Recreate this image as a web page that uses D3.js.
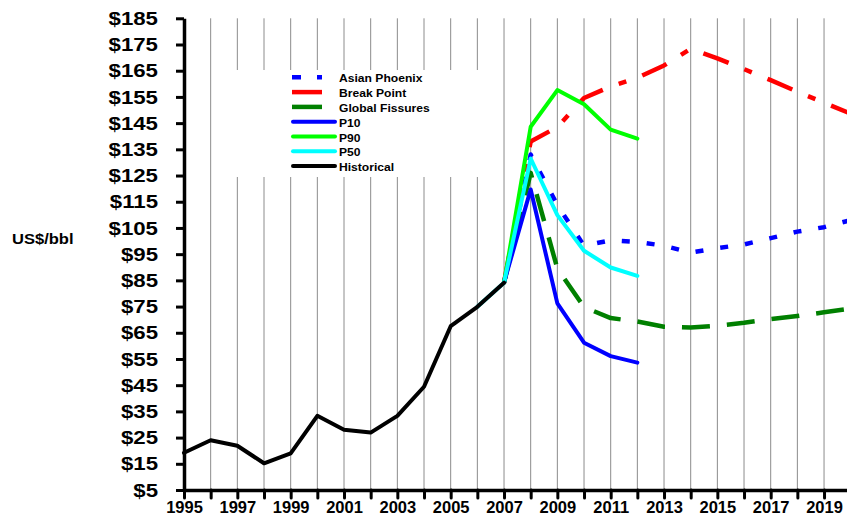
<!DOCTYPE html>
<html>
<head>
<meta charset="utf-8">
<script src="https://cdn.jsdelivr.net/npm/d3@7"></script>
<style>
  body { margin: 0; background: #fff; }
  svg { display: block; }
  text { font-family: "Liberation Sans", Arial, sans-serif; font-weight: bold; fill: #000; }
</style>
</head>
<body>
<div id="chart"></div>
<script>
// data
let histYears = [1995, 1996, 1997, 1998, 1999, 2000, 2001, 2002, 2003, 2004, 2005, 2006, 2007]
let historical = [19.2, 24.0, 21.9, 15.2, 19.0, 33.3, 28.0, 26.9, 33.3, 44.4, 67.5, 74.9, 84.1]

let pYears = [2007, 2008, 2009, 2010, 2011, 2012]
let p10 = [84.1, 119.7, 76.2, 61.2, 56.1, 53.6]
let p90 = [84.1, 143.6, 157.6, 152.2, 142.5, 139.1]
let p50Years = [2006, 2007, 2008, 2009, 2010, 2011, 2012]
let p50 = [74.9, 84.1, 131.5, 109.9, 96.3, 89.9, 86.7]

let scenYears = [2007, 2008, 2009, 2010, 2011, 2012, 2013, 2014, 2015, 2016, 2017, 2018, 2019, 2020]
let asianPhoenix = [84.1, 133.0, 113.7, 98.2, 100.3, 99.7, 98.2, 95.6, 97.3, 98.7, 101.1, 103.6, 105.3, 108.0]
let breakPoint = [84.1, 138.0, 143.5, 154.6, 159.0, 162.3, 167.0, 173.4, 169.7, 165.6, 161.4, 157.0, 152.8, 148.6]
let globalFissures = [84.1, 126.0, 89.5, 74.8, 70.6, 69.3, 67.3, 67.0, 67.7, 68.8, 70.2, 71.4, 72.8, 74.2]

let yTicks = [5, 15, 25, 35, 45, 55, 65, 75, 85, 95, 105, 115, 125, 135, 145, 155, 165, 175, 185]
let xYears = d3.range(1995, 2021)

let series = [
    {name: "Asian Phoenix", years: scenYears, values: asianPhoenix, color: "#0000ff", dash: "8,17", legendDash: "9,16"},
    {name: "Break Point", years: scenYears, values: breakPoint, color: "#ff0000", dash: "27,17,8,17", legendDash: null},
    {name: "Global Fissures", years: scenYears, values: globalFissures, color: "#008000", dash: "28,17", legendDash: null},
    {name: "P10", years: pYears, values: p10, color: "#0000ff", dash: null},
    {name: "P90", years: pYears, values: p90, color: "#00ff00", dash: null},
    {name: "P50", years: p50Years, values: p50, color: "#00ffff", dash: null},
    {name: "Historical", years: histYears, values: historical, color: "#000000", dash: null}
]

// stretch text horizontally like the original rendering
function stretch(sel, k) {
    sel.each(function () {
        let w = this.getComputedTextLength()
        if (w > 0) {
            d3.select(this).attr("textLength", w * k).attr("lengthAdjust", "spacingAndGlyphs")
        }
    })
}

let width = 847, height = 524

let svg = d3.select("#chart").append("svg")
    .attr("width", width)
    .attr("height", height)

let x = d3.scaleLinear().domain([1995, 2020]).range([184, 850.7])
let y = d3.scaleLinear().domain([5, 185]).range([490, 18.3])

// vertical gridlines
svg.append("g").selectAll("line")
    .data(xYears.slice(1))
    .enter().append("line")
    .attr("x1", d => x(d)).attr("x2", d => x(d))
    .attr("y1", y(185)).attr("y2", y(5))
    .attr("stroke", "#8c8c8c")
    .attr("stroke-width", 1)

// legend background hides part of the grid
svg.append("rect")
    .attr("x", 223).attr("y", 70)
    .attr("width", 267).attr("height", 107)
    .attr("fill", "#fff")

// lines
let line = d3.line()
    .x(d => x(d[0]))
    .y(d => y(d[1]))

svg.append("g").selectAll("path")
    .data(series)
    .enter().append("path")
    .attr("d", s => line(s.years.map((yr, i) => [yr, s.values[i]])))
    .attr("fill", "none")
    .attr("stroke", s => s.color)
    .attr("stroke-width", s => s.dash ? 4.5 : 4)
    .attr("stroke-dasharray", s => s.dash)
    .attr("stroke-linejoin", "round")
    .attr("stroke-linecap", s => s.dash ? "butt" : "round")

// y axis
let yAxis = d3.axisLeft(y)
    .tickValues(yTicks)
    .tickSize(8)
    .tickSizeOuter(0)
    .tickPadding(18)
    .tickFormat(d => "$" + d)

let gy = svg.append("g")
    .attr("transform", "translate(184,0)")
    .call(yAxis)
gy.select(".domain").attr("stroke-width", 3.5)
gy.selectAll(".tick line").attr("stroke-width", 3)
gy.selectAll(".tick text")
    .style("font-size", "19px")
    .style("font-family", "'Liberation Sans', Arial, sans-serif")
    .style("font-weight", "bold")
stretch(gy.selectAll(".tick text"), 1.17)

// x axis
let xAxis = d3.axisBottom(x)
    .tickValues(xYears)
    .tickSize(8)
    .tickSizeOuter(0)
    .tickPadding(3)
    .tickFormat(d => (d - 1995) % 2 === 0 ? d : "")

let gx = svg.append("g")
    .attr("transform", "translate(0,490)")
    .call(xAxis)
gx.select(".domain").attr("stroke-width", 3.5)
gx.selectAll(".tick line").attr("stroke-width", 3).attr("stroke-linecap", "round")
gx.selectAll(".tick text")
    .style("font-size", "16.5px")
    .style("font-family", "'Liberation Sans', Arial, sans-serif")
    .style("font-weight", "bold")

// y axis title
let yTitle = svg.append("text")
    .attr("x", 12)
    .attr("y", 243.5)
    .style("font-size", "14px")
    .text("US$/bbl")
stretch(yTitle, 1.18)

// legend
let legend = svg.append("g")
let rowY = d3.range(series.length).map(i => 77.3 + i * 14.8)

series.forEach(function (s, i) {
    let ly = rowY[i]
    if (s.dash) {
        legend.append("line")
            .attr("x1", 292).attr("x2", 322)
            .attr("y1", ly).attr("y2", ly)
            .attr("stroke", s.color)
            .attr("stroke-width", 4.5)
            .attr("stroke-dasharray", s.legendDash)
    } else {
        legend.append("line")
            .attr("x1", 293).attr("x2", 335)
            .attr("y1", ly).attr("y2", ly)
            .attr("stroke", s.color)
            .attr("stroke-width", 4)
            .attr("stroke-linecap", "round")
    }
    let t = legend.append("text")
        .attr("x", 339)
        .attr("y", ly + 5)
        .style("font-size", "11px")
        .text(s.name)
    stretch(t, 1.1)
})
</script>
</body>
</html>
